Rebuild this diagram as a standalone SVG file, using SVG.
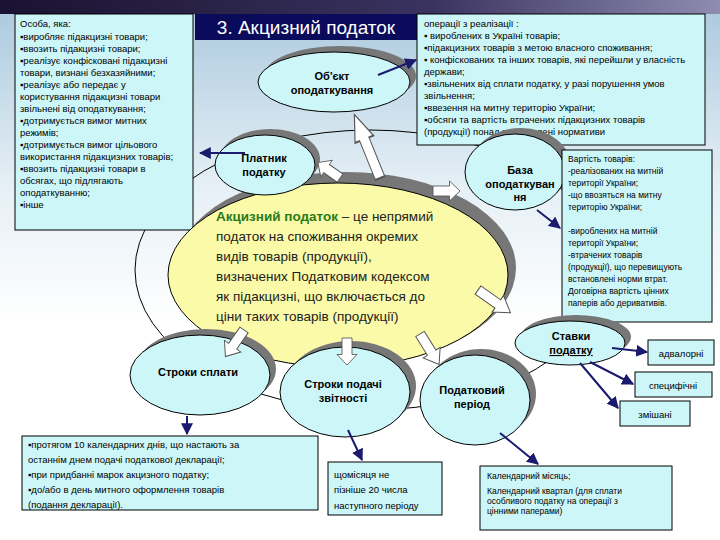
<svg xmlns="http://www.w3.org/2000/svg" width="720" height="540" viewBox="0 0 720 540">
<defs>
<linearGradient id="bg" x1="0" y1="0" x2="0" y2="1"><stop offset="0" stop-color="#a9c8dd"/><stop offset="0.35" stop-color="#e6f0f6"/><stop offset="0.6" stop-color="#ffffff"/></linearGradient>
<linearGradient id="top" x1="0" y1="0" x2="1" y2="0"><stop offset="0" stop-color="#1a1230"/><stop offset="0.6" stop-color="#3a3360"/><stop offset="1" stop-color="#8f8cb0"/></linearGradient>
<marker id="ah" viewBox="0 0 10 10" refX="9" refY="5" markerWidth="6" markerHeight="6" orient="auto"><path d="M0,0 L10,5 L0,10 z" fill="#1a1a6e"/></marker>
<path id="blk" d="M0,-5 L22,-5 L22,-10 L36,0 L22,10 L22,5 L0,5 z"/>
</defs>
<style>
.box{fill:#ccf6f8;stroke:#000;stroke-width:1}
.ell{fill:#ccf6f8;stroke:#000;stroke-width:1}
.sh{fill:#777}
.t{font-family:"Liberation Sans",Arial,sans-serif;font-size:9.5px;fill:#000}
.s{font-family:"Liberation Sans",Arial,sans-serif;font-size:8.5px;fill:#000}
.b{font-family:"Liberation Sans",Arial,sans-serif;font-size:11px;font-weight:bold;fill:#000;text-anchor:middle}
.m{font-family:"Liberation Sans",Arial,sans-serif;font-size:13.5px;fill:#222}
.ln{stroke:#1a1a6e;stroke-width:2;fill:none;marker-end:url(#ah)}
.blkA{fill:#fff;stroke:#555;stroke-width:1}
</style>
<rect width="720" height="540" fill="url(#bg)"/>
<rect width="720" height="14" fill="url(#top)"/>
<ellipse cx="370" cy="270" rx="235" ry="140" fill="none" stroke="#000" stroke-width="1"/>

<g id="title"><rect x="195" y="14" width="222" height="26" fill="#0b0b5c"/><text x="306" y="34" font-family="Liberation Sans,Arial,sans-serif" font-size="19" fill="#fff" text-anchor="middle">3. Акцизний податок</text></g>

<g id="payers-box"><rect class="box" x="15" y="14" width="178" height="216"/>
<text class="t" x="20" y="27">Особа, яка:</text>
<text class="t" x="20" y="40">▪виробляє підакцизні товари;</text>
<text class="t" x="20" y="52">▪ввозить  підакцизні товари;</text>
<text class="t" x="20" y="64">▪реалізує конфісковані підакцизні</text>
<text class="t" x="20" y="76">товари, визнані безхазяйними;</text>
<text class="t" x="20" y="88">▪реалізує або передає у</text>
<text class="t" x="20" y="100">користування підакцизні товари</text>
<text class="t" x="20" y="112">звільнені від оподаткування;</text>
<text class="t" x="20" y="124">▪дотримується вимог митних</text>
<text class="t" x="20" y="136">режимів;</text>
<text class="t" x="20" y="148">▪дотримується вимог цільового</text>
<text class="t" x="20" y="160">використання підакцизних товарів;</text>
<text class="t" x="20" y="172">▪ввозить підакцизні товари в</text>
<text class="t" x="20" y="184">обсягах, що підлягають</text>
<text class="t" x="20" y="196">оподаткуванню;</text>
<text class="t" x="20" y="208">▪інше</text></g>

<g id="object-box"><rect class="box" x="417" y="14" width="288" height="131"/>
<text class="t" x="424" y="27">операції з реалізації :</text>
<text class="t" x="424" y="39">▪ вироблених в Україні товарів;</text>
<text class="t" x="424" y="51">▪підакцизних товарів з метою власного споживання;</text>
<text class="t" x="424" y="63">▪ конфіскованих та інших товарів, які перейшли у власність</text>
<text class="t" x="424" y="75">держави;</text>
<text class="t" x="424" y="87">▪звільнених від сплати податку, у разі порушення умов</text>
<text class="t" x="424" y="99">звільнення;</text>
<text class="t" x="424" y="111">▪ввезення на митну територію України;</text>
<text class="t" x="424" y="123">▪обсяги та вартість втрачених підакцизних товарів</text>
<text class="t" x="424" y="135">(продукції) понад встановлені нормативи</text></g>

<g id="main"><ellipse class="sh" cx="346" cy="268" rx="170" ry="96"/><ellipse cx="338" cy="275" rx="170" ry="92" fill="#fafaa8" stroke="#000"/>
<text class="m" x="216" y="221"><tspan font-weight="bold" fill="#2a7a1a">Акцизний податок</tspan> – це непрямий</text>
<text class="m" x="216" y="241">податок на споживання окремих</text>
<text class="m" x="216" y="261">видів товарів (продукції),</text>
<text class="m" x="216" y="281">визначених Податковим кодексом</text>
<text class="m" x="216" y="301">як підакцизні, що включається до</text>
<text class="m" x="216" y="321">ціни таких товарів (продукції)</text></g>

<g id="object"><ellipse class="sh" cx="340" cy="76" rx="76" ry="30"/><ellipse class="ell" cx="334" cy="82" rx="76" ry="30"/><text class="b" x="332" y="80">Об'єкт</text><text class="b" x="332" y="94">оподаткування</text></g>
<g id="payer"><ellipse class="sh" cx="270" cy="159" rx="50" ry="30"/><ellipse class="ell" cx="265" cy="165" rx="50" ry="30"/><text class="b" x="264" y="162">Платник</text><text class="b" x="264" y="176">податку</text></g>
<g id="base"><ellipse class="sh" cx="521" cy="166" rx="50" ry="38"/><ellipse class="ell" cx="515" cy="172" rx="50" ry="38"/><text class="b" x="520" y="174">База</text><text class="b" x="520" y="188">оподаткуван</text><text class="b" x="520" y="201">ня</text></g>

<g id="base-box"><rect class="box" x="562" y="150" width="150" height="172"/>
<text class="s" x="568" y="162">Вартість товарів:</text>
<text class="s" x="568" y="174">-реалізованих на митній</text>
<text class="s" x="568" y="186">території України;</text>
<text class="s" x="568" y="198">-що ввозяться на митну</text>
<text class="s" x="568" y="210">територію України;</text>
<text class="s" x="568" y="234">-вироблених  на митній</text>
<text class="s" x="568" y="246">території України;</text>
<text class="s" x="568" y="258">-втрачених товарів</text>
<text class="s" x="568" y="270">(продукції), що перевищують</text>
<text class="s" x="568" y="282">встановлені норми втрат.</text>
<text class="s" x="568" y="294">Договірна вартість цінних</text>
<text class="s" x="568" y="306">паперів або деривативів.</text></g>

<g id="rates"><ellipse class="sh" cx="576" cy="337" rx="55" ry="22"/><ellipse class="ell" cx="570" cy="343" rx="55" ry="22"/><text class="b" x="571" y="340">Ставки</text><text class="b" x="571" y="354" text-decoration="underline">податку</text></g>
<g id="adval"><rect class="box" x="648" y="340" width="66" height="25"/><text class="t" x="681" y="357" text-anchor="middle" font-size="11">адвалорні</text></g>
<g id="spec"><rect class="box" x="635" y="372" width="77" height="25"/><text class="t" x="673" y="389" text-anchor="middle" font-size="11">специфічні</text></g>
<g id="mixed"><rect class="box" x="620" y="401" width="70" height="25"/><text class="t" x="655" y="418" text-anchor="middle" font-size="11">змішані</text></g>

<g id="pay-term"><ellipse class="sh" cx="206" cy="369" rx="70" ry="40"/><ellipse class="ell" cx="200" cy="375" rx="70" ry="40"/><text class="b" x="198" y="376">Строки сплати</text></g>
<g id="report-term"><ellipse class="sh" cx="351" cy="386" rx="65" ry="45"/><ellipse class="ell" cx="345" cy="392" rx="65" ry="45"/><text class="b" x="343" y="388">Строки подачі</text><text class="b" x="343" y="402">звітності</text></g>
<g id="period"><ellipse class="sh" cx="481" cy="394" rx="55" ry="45"/><ellipse class="ell" cx="475" cy="400" rx="55" ry="45"/><text class="b" x="472" y="394">Податковий</text><text class="b" x="472" y="408">період</text></g>

<g id="pay-box"><rect class="box" x="22" y="436" width="296" height="74"/>
<text class="t" x="28" y="448">▪протягом 10 календарних днів, що настають за</text>
<text class="t" x="28" y="463">останнім днем  подачі податкової декларації;</text>
<text class="t" x="28" y="478">▪при придбанні марок акцизного податку;</text>
<text class="t" x="28" y="493">▪до/або в день митного оформлення  товарів</text>
<text class="t" x="28" y="508">(подання декларації).</text></g>
<g id="report-box"><rect class="box" x="328" y="462" width="114" height="53"/>
<text class="t" x="334" y="478">щомісяця не</text><text class="t" x="334" y="493">пізніше 20 числа</text><text class="t" x="334" y="509">наступного періоду</text></g>
<g id="period-box"><rect class="box" x="480" y="466" width="192" height="64"/>
<text class="s" x="487" y="479">Календарний місяць;</text>
<text class="s" x="487" y="494">Календарний квартал (для сплати</text>
<text class="s" x="487" y="504">особливого податку на операції з</text>
<text class="s" x="487" y="514">цінними паперами)</text></g>

<g id="connectors">
<use href="#blk" class="blkA" transform="translate(380,178) rotate(-112) scale(1.9,1)"/>
<use href="#blk" class="blkA" transform="translate(340,178) rotate(-145) scale(0.75,1)"/>
<use href="#blk" class="blkA" transform="translate(433,191) rotate(0) scale(0.75,1)"/>
<use href="#blk" class="blkA" transform="translate(478,290) rotate(35) scale(1.1,1)"/>
<use href="#blk" class="blkA" transform="translate(244,330) rotate(125) scale(0.9,1)"/>
<use href="#blk" class="blkA" transform="translate(347,338) rotate(90) scale(0.75,1)"/>
<use href="#blk" class="blkA" transform="translate(420,334) rotate(58) scale(1,1)"/>
<path class="ln" d="M378,75 L416,60"/>
<path class="ln" d="M245,153 L200,153"/>
<path class="ln" d="M537,210 L560,228"/>
<path class="ln" d="M612,348 L647,352"/>
<path class="ln" d="M590,362 L633,384"/>
<path class="ln" d="M580,363 L618,408"/>
<path class="ln" d="M187,416 L187,434"/>
<path class="ln" d="M348,430 L362,460"/>
<path class="ln" d="M500,433 L538,464"/>
</g>
</svg>
